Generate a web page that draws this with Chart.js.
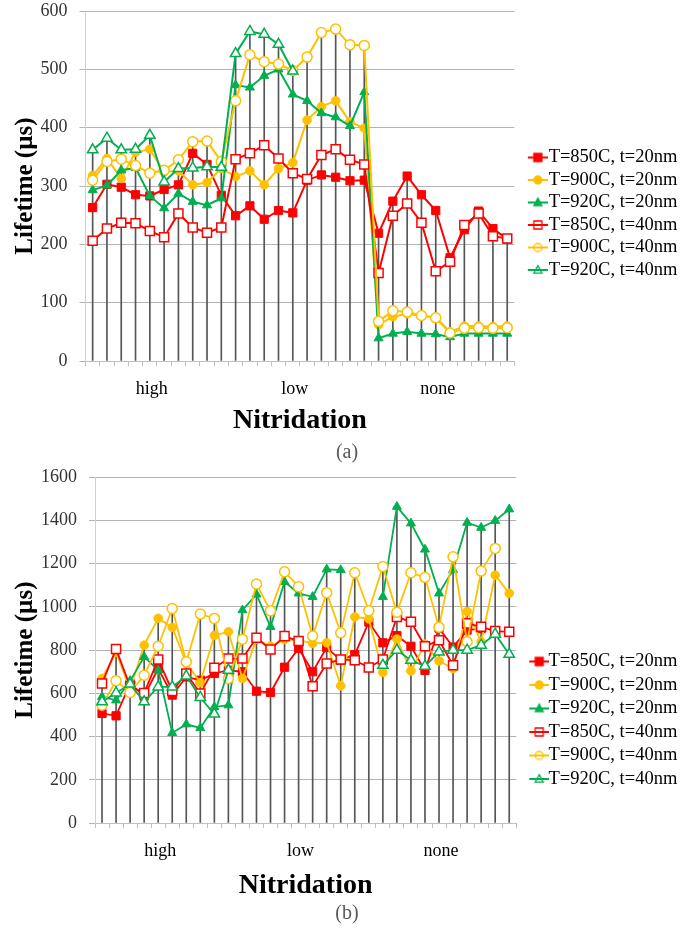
<!DOCTYPE html>
<html>
<head>
<meta charset="utf-8">
<script src="https://cdn.jsdelivr.net/npm/chart.js@4.4.1/dist/chart.umd.min.js"></script>
<style>
  body { margin: 0; background: #fff; width: 681px; height: 930px; position: relative; overflow: hidden; }
  .panel { position: absolute; left: 0; }
  .cap { position: absolute; font-family: 'Liberation Serif', serif; font-size: 20px; color: #595959; transform: translateX(-50%); }
</style>
</head>
<body>
<canvas id="chart_a" class="panel" width="681" height="442" style="top:0"></canvas>
<div class="cap" style="left:347px; top:440px">(a)</div>
<canvas id="chart_b" class="panel" width="681" height="442" style="top:465px"></canvas>
<div class="cap" style="left:347px; top:901px">(b)</div>

<script>
const groups = ['high', 'low', 'none']
const perGroup = 10

const seriesLabels = ['T=850C, t=20nm', 'T=900C, t=20nm', 'T=920C, t=20nm', 'T=850C, t=40nm', 'T=900C, t=40nm', 'T=920C, t=40nm']
const seriesColors = ['#ff0000', '#ffc000', '#00b050', '#ff0000', '#ffc000', '#00b050']
const seriesMarkers = ['rect', 'circle', 'triangle', 'rect', 'circle', 'triangle']
const seriesFilled = [true, true, true, false, false, false]

// panel (a)
const a850_20 = [263, 303, 298, 285, 283, 294, 302, 356, 337, 284, 249, 266, 243, 258, 254, 310, 319, 315, 309, 310, 219, 274, 317, 285, 258, 177, 225, 257, 227, 209]
const a900_20 = [318, 347, 313, 358, 363, 324, 326, 302, 306, 330, 316, 326, 302, 330, 340, 413, 436, 446, 410, 399, 62, 76, 81, 77, 75, 50, 60, 60, 59, 60]
const a920_20 = [293, 301, 327, 331, 283, 262, 287, 273, 267, 279, 473, 469, 489, 500, 457, 446, 425, 418, 403, 461, 39, 47, 50, 47, 46, 41, 47, 47, 47, 47]
const a850_40 = [206, 227, 237, 236, 223, 212, 253, 229, 220, 229, 346, 356, 370, 347, 322, 312, 353, 363, 345, 337, 151, 249, 270, 237, 154, 170, 233, 253, 214, 210]
const a900_40 = [310, 342, 346, 335, 322, 327, 345, 376, 377, 342, 446, 525, 513, 509, 498, 521, 563, 569, 542, 541, 68, 86, 84, 78, 74, 48, 56, 57, 56, 57]
const a920_40 = [362, 382, 362, 363, 387, 307, 330, 331, 333, 332, 527, 565, 560, 543, 497, null, null, null, null, null, null, null, null, null, null, null, null, null, null, null]

// panel (b)
const b850_20 = [507, 496, 645, 587, 715, 592, 676, 661, 692, 707, 700, 610, 604, 721, 808, 700, 812, 754, 779, 930, 834, 867, 818, 706, 902, 814, 893, 900, null, null]
const b900_20 = [669, 790, 618, 823, 947, 905, 740, 650, 868, 885, 669, 850, 818, 849, 846, 831, 834, 635, 954, 945, 697, 851, 704, 828, 750, 715, 979, 839, 1147, 1063]
const b920_20 = [584, 568, 658, 769, 707, 417, 457, 440, 537, 545, 985, 1058, 908, 1116, 1063, 1047, 1174, 1171, null, null, 1047, 1464, 1387, 1266, 1063, 1171, 1390, 1367, 1399, 1452]
const b850_40 = [646, 805, 633, 602, 757, 611, 692, 599, 718, 761, 761, 857, 803, 865, 842, 633, 738, 757, 753, 720, 757, 954, 931, 818, 846, 730, 924, 908, 888, 885]
const b900_40 = [545, 658, 604, 684, 818, 993, 746, 967, 947, 669, 851, 1106, 982, 1163, 1094, 865, 1066, 880, 1158, 982, 1187, 975, 1158, 1137, 906, 1232, 839, 1166, 1271, null]
const b920_40 = [561, 602, 643, 561, 630, 630, 680, 581, 504, 707, null, null, null, null, null, null, null, null, null, null, 730, 800, 753, 726, 792, 800, 800, 823, 874, 781]

const serif = "'Liberation Serif', 'Times New Roman', serif"
Chart.defaults.font.family = serif

// category labels: one per sample, group name shown once per group
const labels = []
groups.forEach(g => { for (let i = 0; i < perGroup; i++) labels.push(g) })

const radiusFor = (marker, filled) => {
    if (marker == 'rect') return filled ? 5.8 : 6.4
    if (marker == 'circle') return filled ? 4.3 : 5
    return filled ? 5.2 : 6
}

// small marker shapes for the legend icons
const drawMarker = (ctx, marker, x, y, r) => {
    ctx.beginPath()
    if (marker == 'rect') {
        ctx.rect(x - r, y - r, 2 * r, 2 * r)
    } else if (marker == 'circle') {
        ctx.arc(x, y, r, 0, Math.PI * 2)
    } else {
        ctx.moveTo(x, y - r * 1.1)
        ctx.lineTo(x + r, y + r * 0.8)
        ctx.lineTo(x - r, y + r * 0.8)
        ctx.closePath()
    }
}

const legendIcons = seriesLabels.map((_, i) => {
    const c = document.createElement('canvas')
    c.width = 38
    c.height = 14
    const ctx = c.getContext('2d')
    ctx.strokeStyle = seriesColors[i]
    ctx.fillStyle = seriesColors[i]
    ctx.lineWidth = 2
    ctx.beginPath()
    ctx.moveTo(18, 7)
    ctx.lineTo(38, 7)
    ctx.stroke()
    ctx.lineWidth = 1.3
    drawMarker(ctx, seriesMarkers[i], 28, 7, 4)
    if (seriesFilled[i]) ctx.fill()
    ctx.stroke()
    return c
})

const buildDatasets = (values, lineWidth) => {
    const sets = values.map((v, i) => ({
        type: 'line',
        label: seriesLabels[i],
        data: v,
        borderColor: seriesColors[i],
        borderWidth: lineWidth,
        backgroundColor: seriesColors[i],
        pointStyle: seriesMarkers[i],
        pointRadius: radiusFor(seriesMarkers[i], seriesFilled[i]),
        pointBorderWidth: seriesFilled[i] ? 1 : 1.5,
        pointBorderColor: seriesColors[i],
        pointBackgroundColor: seriesFilled[i] ? seriesColors[i] : '#ffffff',
        tension: 0,
        fill: false,
        order: 6 - i
    }))
    // drop lines: from the highest point of each sample down to the axis
    const tops = labels.map((_, k) => Math.max(...values.map(v => v[k]).filter(x => x != null)))
    sets.push({
        type: 'bar',
        label: 'drop',
        data: tops,
        backgroundColor: '#555555',
        barThickness: 1,
        order: 20
    })
    return sets
}

// lay: sizes that place the plot area like the original figure
const makeOptions = (yMax, yStep, lay) => ({
    responsive: false,
    animation: false,
    layout: { padding: { left: 13, top: 2, right: lay.padRight, bottom: 0 } },
    plugins: {
        legend: {
            position: 'right',
            align: 'start',
            title: { display: true, text: ' ', font: { size: 1 }, padding: { top: lay.legendTop, bottom: 0 } },
            labels: {
                usePointStyle: true,
                pointStyleWidth: lay.iconWidth,
                padding: lay.legendPad,
                color: '#000',
                font: { family: serif, size: 18.5 },
                filter: item => item.datasetIndex < 6,
                sort: (a, b) => a.datasetIndex - b.datasetIndex,
                generateLabels: chart => Chart.defaults.plugins.legend.labels.generateLabels(chart)
                    .map(l => ({ ...l, pointStyle: legendIcons[l.datasetIndex] || l.pointStyle }))
            }
        },
        tooltip: { enabled: false }
    },
    scales: {
        x: {
            offset: true,
            afterFit: axis => { axis.height = lay.xHeight },
            grid: { display: true, drawOnChartArea: false, offset: true, tickLength: 5, color: '#bfbfbf' },
            border: { color: '#bfbfbf' },
            ticks: {
                autoSkip: false,
                maxRotation: 0,
                padding: 12,
                labelOffset: 2,
                color: '#000',
                font: { family: serif, size: 18 },
                callback: (v, i) => i % perGroup == 4 ? labels[i] : ''
            },
            title: {
                display: true,
                text: 'Nitridation',
                color: '#000',
                font: { family: serif, size: 28, weight: 'bold' },
                padding: { top: 4, bottom: 4 }
            }
        },
        y: {
            min: 0,
            max: yMax,
            afterFit: axis => { axis.paddingTop = lay.plotTop; axis.width = lay.yWidth },
            ticks: { stepSize: yStep, padding: 12, color: '#333', font: { family: serif, size: 18 }, callback: v => String(v) },
            grid: { color: '#b3b3b3', tickLength: 6 },
            border: { color: '#d0d0d0' },
            title: {
                display: true,
                text: 'Lifetime (µs)',
                color: '#000',
                font: { family: serif, size: 25, weight: 'bold', lineHeight: 1 },
                padding: { top: 0, bottom: 1.5 }
            }
        }
    }
})

new Chart('chart_a', {
    data: { labels, datasets: buildDatasets([a850_20, a900_20, a920_20, a850_40, a900_40, a920_40], 2) },
    options: makeOptions(600, 100, { padRight: -0.5, iconWidth: 21, legendTop: 141, legendPad: 4, xHeight: 81, plotTop: 11, yWidth: 72.5 })
})

new Chart('chart_b', {
    data: { labels, datasets: buildDatasets([b850_20, b900_20, b920_20, b850_40, b900_40, b920_40], 1.8) },
    options: makeOptions(1600, 200, { padRight: -3, iconWidth: 18, legendTop: 179, legendPad: 5, xHeight: 84, plotTop: 12.3, yWidth: 82 })
})
</script>
</body>
</html>
